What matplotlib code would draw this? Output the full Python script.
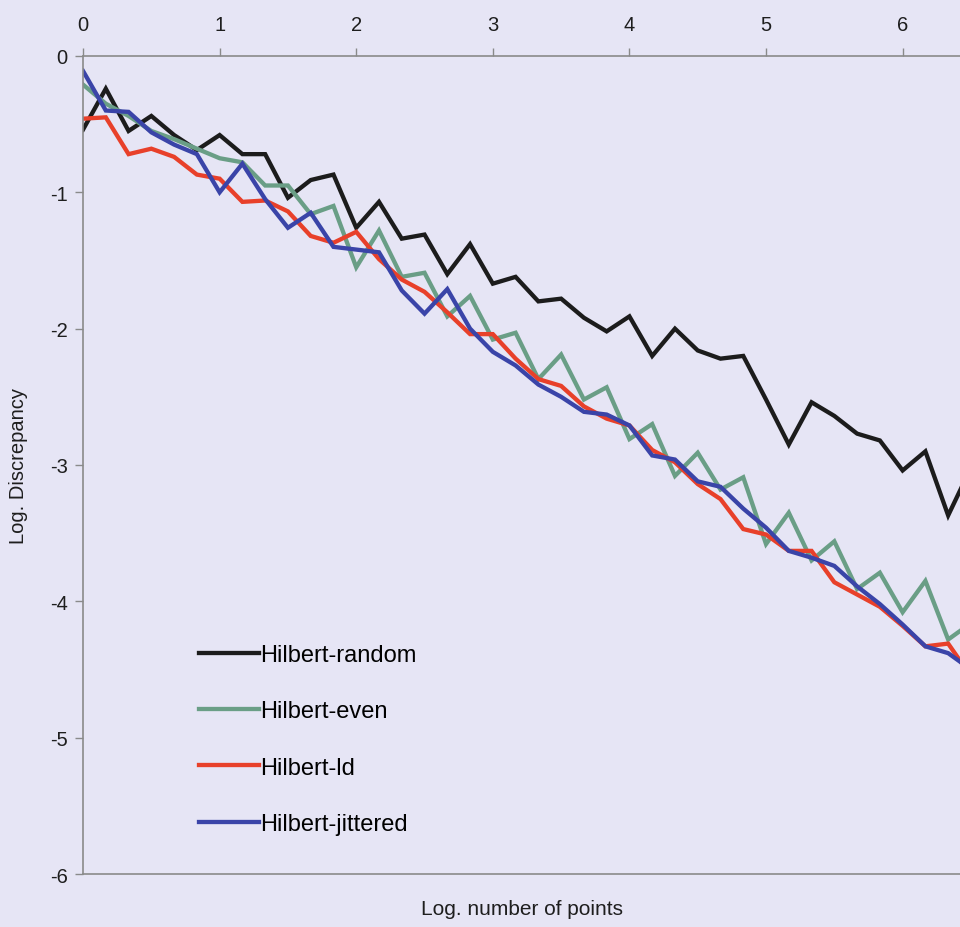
import matplotlib
matplotlib.use("Agg")
import matplotlib.pyplot as plt
import numpy as np

plt.rcParams["font.family"] = ["Liberation Sans", "DejaVu Sans"]
plt.rcParams["axes.unicode_minus"] = False

# x = log10(number of points), one sample every 1/6
log_n = np.arange(40) / 6.0

hilbert_random = [
    -0.54, -0.24, -0.55, -0.44, -0.58, -0.69, -0.58, -0.72, -0.72, -1.04,
    -0.91, -0.87, -1.26, -1.07, -1.34, -1.31, -1.60, -1.38, -1.67, -1.62,
    -1.80, -1.78, -1.92, -2.02, -1.91, -2.20, -2.00, -2.16, -2.22, -2.20,
    -2.52, -2.85, -2.54, -2.64, -2.77, -2.82, -3.04, -2.90, -3.37, -3.02,
]
hilbert_even = [
    -0.21, -0.35, -0.44, -0.55, -0.61, -0.68, -0.75, -0.78, -0.95, -0.95,
    -1.16, -1.10, -1.55, -1.28, -1.62, -1.59, -1.91, -1.76, -2.08, -2.03,
    -2.37, -2.19, -2.52, -2.43, -2.81, -2.70, -3.08, -2.91, -3.18, -3.09,
    -3.58, -3.35, -3.70, -3.56, -3.91, -3.79, -4.08, -3.85, -4.28, -4.16,
]
hilbert_ld = [
    -0.46, -0.45, -0.72, -0.68, -0.74, -0.87, -0.90, -1.07, -1.06, -1.14,
    -1.32, -1.37, -1.29, -1.49, -1.64, -1.73, -1.88, -2.04, -2.04, -2.22,
    -2.37, -2.42, -2.57, -2.66, -2.71, -2.89, -2.98, -3.14, -3.25, -3.47,
    -3.51, -3.63, -3.63, -3.86, -3.95, -4.04, -4.18, -4.33, -4.31, -4.55,
]
hilbert_jittered = [
    -0.11, -0.40, -0.41, -0.56, -0.65, -0.72, -1.00, -0.79, -1.05, -1.26,
    -1.15, -1.40, -1.42, -1.44, -1.72, -1.89, -1.71, -2.00, -2.17, -2.27,
    -2.41, -2.50, -2.61, -2.63, -2.71, -2.93, -2.96, -3.12, -3.16, -3.32,
    -3.46, -3.63, -3.68, -3.74, -3.89, -4.02, -4.17, -4.33, -4.38, -4.50,
]

series = [
    ("Hilbert-random", hilbert_random, "#1c1c1c"),
    ("Hilbert-even", hilbert_even, "#6a9e86"),
    ("Hilbert-ld", hilbert_ld, "#e8402a"),
    ("Hilbert-jittered", hilbert_jittered, "#3a44a8"),
]

bg = "#e6e5f5"
txt = "#1e1e1e"
fig = plt.figure(figsize=(9.6, 9.28), dpi=100, facecolor=bg)
ax = fig.add_axes([0.0865, 0.0571, 0.9135, 0.8815], facecolor=bg)

for name, vals, col in series:
    ax.plot(log_n, vals, color=col, linewidth=3.1, label=name,
            solid_joinstyle="miter")

ax.set_xlim(0, 6.42)
ax.set_ylim(-6, 0)
ax.set_xticks(range(7))
ax.set_yticks(range(-6, 1))
ax.xaxis.tick_top()
ax.tick_params(axis="both", direction="out", length=6, width=1,
               color="#8a8a8a", labelsize=14.5, labelcolor=txt)
ax.tick_params(axis="x", pad=10)
ax.tick_params(axis="y", pad=5)

for side in ["left", "top", "bottom"]:
    ax.spines[side].set_color("#8a8a8a")
    ax.spines[side].set_linewidth(1.2)
ax.spines["right"].set_visible(False)

ax.set_ylabel("Log. Discrepancy", fontsize=14.5, color=txt, labelpad=16)
ax.text(0.5, -0.03, "Log. number of points", transform=ax.transAxes,
        ha="center", va="top", fontsize=15, color=txt)

leg = ax.legend(loc="lower left", bbox_to_anchor=(0.108, 0.022),
                frameon=False, fontsize=17, handlelength=2.55,
                handletextpad=0.05, labelspacing=1.45)
for line in leg.get_lines():
    line.set_linewidth(3.1)

fig.savefig("out.png", dpi=100, facecolor=bg)
